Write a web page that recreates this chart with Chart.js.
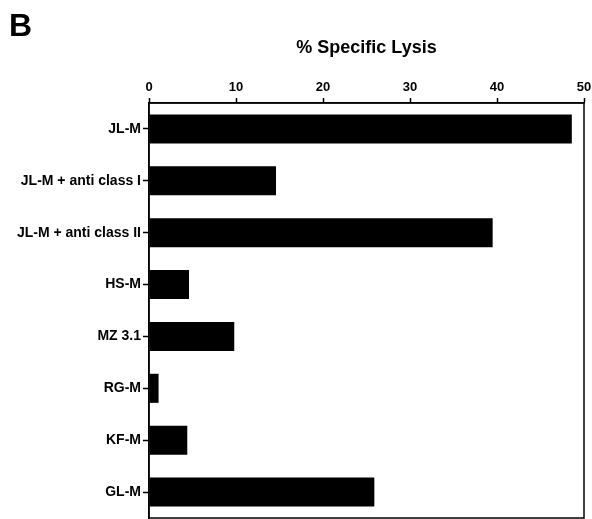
<!DOCTYPE html>
<html>
<head>
<meta charset="utf-8">
<script src="https://cdn.jsdelivr.net/npm/chart.js@4/dist/chart.umd.min.js"></script>
<style>
  html, body { margin: 0; padding: 0; background: #fff; }
  #wrap { width: 592px; height: 519px; }
</style>
</head>
<body>
<div id="wrap"><canvas id="lysisChart"></canvas></div>
<script>
// Categorías y valores (% lisis específica)
const categories = [
    'JL-M',
    'JL-M + anti class I',
    'JL-M + anti class II',
    'HS-M',
    'MZ 3.1',
    'RG-M',
    'KF-M',
    'GL-M'
];
const lysisValues = [48.6, 14.6, 39.5, 4.6, 9.8, 1.1, 4.4, 25.9];
const xTicks = [0, 10, 20, 30, 40, 50];

const FONT = "'Liberation Sans', Arial, Helvetica, sans-serif";

// Marco alrededor del área del gráfico + letra del panel
const framePlugin = {
    id: 'frame',
    afterDatasetsDraw(chart) {
        const { ctx, chartArea: a } = chart;
        ctx.save();
        ctx.strokeStyle = '#000';
        ctx.lineWidth = 1.5;
        ctx.strokeRect(a.left, a.top, a.right - a.left, a.bottom - a.top);
        ctx.restore();
    },
    afterDraw(chart) {
        const ctx = chart.ctx;
        ctx.save();
        ctx.fillStyle = '#000';
        ctx.font = 'bold 32px ' + FONT;
        ctx.textBaseline = 'alphabetic';
        ctx.fillText('B', 9, 36);
        ctx.restore();
    }
};

new Chart(document.getElementById('lysisChart'), {
    type: 'bar',
    data: {
        labels: categories,
        datasets: [{
            data: lysisValues,
            backgroundColor: '#000',
            borderWidth: 0,
            barPercentage: 0.56,
            categoryPercentage: 1
        }]
    },
    options: {
        indexAxis: 'y',
        responsive: true,
        maintainAspectRatio: false,
        animation: false,
        layout: { padding: { top: 0, right: 8, bottom: 1, left: 0 } },
        plugins: {
            legend: { display: false },
            tooltip: { enabled: false }
        },
        scales: {
            x: {
                position: 'top',
                min: 0,
                max: 50,
                afterBuildTicks: scale => {
                    scale.ticks = xTicks.map(v => ({ value: v }));
                },
                afterFit: scale => {
                    scale.height = 103;
                    scale.paddingLeft = 0;
                    scale.paddingRight = 0;
                },
                border: { display: true, color: '#000', width: 1.5 },
                grid: {
                    drawOnChartArea: false,
                    drawTicks: true,
                    tickLength: 5,
                    tickColor: '#000',
                    tickWidth: 1.5
                },
                ticks: {
                    color: '#000',
                    padding: 3,
                    maxRotation: 0,
                    font: { family: FONT, size: 13, weight: 'bold' }
                },
                title: {
                    display: true,
                    text: '% Specific Lysis',
                    color: '#000',
                    padding: { top: 37, bottom: 0 },
                    font: { family: FONT, size: 18, weight: 'bold' }
                }
            },
            y: {
                afterFit: scale => {
                    scale.width = 149;
                    scale.paddingTop = 0;
                    scale.paddingBottom = 0;
                },
                border: { display: true, color: '#000', width: 1.5 },
                grid: {
                    offset: false,
                    drawOnChartArea: false,
                    drawTicks: true,
                    tickLength: 6,
                    tickColor: '#000',
                    tickWidth: 1.5
                },
                ticks: {
                    color: '#000',
                    padding: 2,
                    font: { family: FONT, size: 14, weight: 'bold' }
                }
            }
        }
    },
    plugins: [framePlugin]
});
</script>
</body>
</html>
